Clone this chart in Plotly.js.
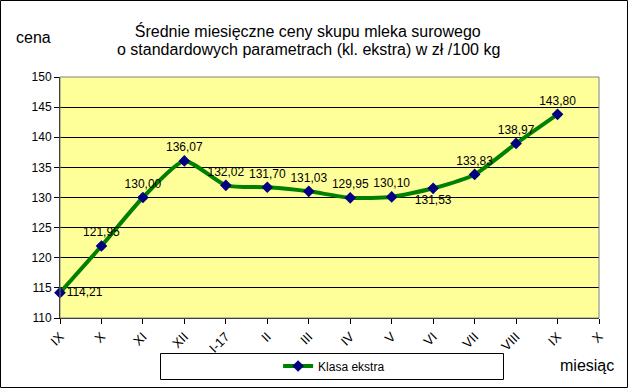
<!DOCTYPE html>
<html>
<head>
<meta charset="utf-8">
<script src="https://cdn.plot.ly/plotly-3.0.1.min.js"></script>
<style>
html,body{margin:0;padding:0;background:#fff;}
#chart{width:628px;height:388px;}
</style>
</head>
<body>
<div id="chart"></div>
<script>
const categories = ["IX","X","XI","XII","I-17","II","III","IV","V","VI","VII","VIII","IX","X"];
const values = [114.21,121.95,130.00,136.07,132.02,131.70,131.03,129.95,130.10,131.53,133.83,138.97,143.80];
const labelPositions = ["middle right","top center","top center","top center","top center","top center","top center","top center","top center","bottom center","top center","top center","top center"];
const yTicks = [110,115,120,125,130,135,140,145,150];
const titleLines = ["Średnie miesięczne ceny skupu mleka surowego","o standardowych parametrach (kl. ekstra) w zł /100 kg"];

const xIdx = values.map((v,i)=>i);
const labels = values.map(v=>v.toFixed(2).replace('.',','));

const font = "Liberation Sans, Arial, sans-serif";
const PW = 539, PH = 241;

const trace = {
  x: xIdx, y: values,
  type: 'scatter', mode: 'lines+markers+text',
  name: 'Klasa ekstra',
  line: {color:'#008000', width:4, shape:'spline', smoothing:0.6},
  marker: {symbol:'diamond', size:9, color:'#000080'},
  text: labels, textposition: labelPositions,
  textfont: {family:font, size:12, color:'#000'},
  cliponaxis:false
};

const layout = {
  width:628, height:388,
  margin:{l:60, r:29, t:77, b:70, autoexpand:false},
  paper_bgcolor:'#fff', plot_bgcolor:'#FFFF99',
  font:{family:font, size:12, color:'#000'},
  title:{text:titleLines[0],
         font:{family:font, size:16, color:'#000'}, x:0.49, xanchor:'center', y:1-31/388, yanchor:'middle'},
  xaxis:{range:[0,13], tickvals:categories.map((c,i)=>i), ticktext:categories,
         tickangle:-45, ticks:'outside', ticklen:5, tickcolor:'#000',
         showgrid:false, zeroline:false, showline:true, linecolor:'#000', linewidth:1,
         tickfont:{family:font, size:13}, automargin:false},
  yaxis:{range:[110,150], tickvals:yTicks, ticks:'outside', ticklen:5, tickcolor:'#000',
         showgrid:true, gridcolor:'#000', gridwidth:1, zeroline:false,
         showline:true, linecolor:'#000', linewidth:1, tickfont:{family:font, size:12}, automargin:false},
  showlegend:true,
  legend:{orientation:'h', xref:'container', yref:'container', x:0.532, xanchor:'center', y:(388-366)/388, yanchor:'middle',
          borderwidth:0, bgcolor:'rgba(0,0,0,0)',
          font:{family:font, size:12}},
  shapes:[
    {type:'rect', xref:'paper', yref:'paper', x0:0, x1:1, y0:0, y1:1, line:{color:'#808080', width:1}},
    {type:'rect', xref:'paper', yref:'paper', x0:(160.5-60)/PW, x1:(503.5-60)/PW, y0:(318-379.5)/PH, y1:(318-353.5)/PH, line:{color:'#000', width:1}, fillcolor:'rgba(0,0,0,0)', layer:'below'},
    {type:'rect', xref:'paper', yref:'paper', x0:-59.5/PW, x1:(627.5-60)/PW, y0:(318-387.5)/PH, y1:(318-0.5)/PH, line:{color:'#000', width:1}}
  ],
  annotations:[
    {text:titleLines[1], xref:'paper', yref:'paper', x:(308-60)/PW, y:(318-50)/PH, showarrow:false, xanchor:'center', yanchor:'middle', font:{family:font, size:16}},
    {text:'cena', xref:'paper', yref:'paper', x:-46/PW, y:(318-38)/PH, showarrow:false, xanchor:'left', yanchor:'middle', font:{family:font, size:16}},
    {text:'miesiąc', xref:'paper', yref:'paper', x:(616-60)/PW, y:(318-365)/PH, showarrow:false, xanchor:'right', yanchor:'middle', font:{family:font, size:16}}
  ]
};

Plotly.newPlot('chart',[trace],layout,{displayModeBar:false, staticPlot:true});
</script>
</body>
</html>
